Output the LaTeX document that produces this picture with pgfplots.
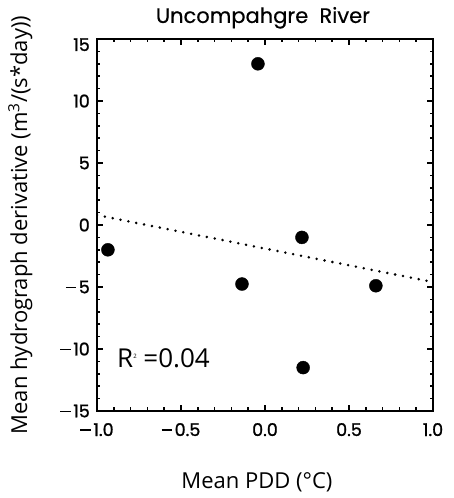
\documentclass[border=0pt]{standalone}
\usepackage{fontspec}
\setmainfont{Open Sans}
\newfontfamily\tickfont{Poppins}[FakeBold=1.2]
\newfontfamily\titlefont{Poppins}[FakeBold=0.4]
\usepackage{pgfplots}
\pgfplotsset{compat=1.18}
\newcommand{\mn}{\rule[5pt]{10.5pt}{1.8pt}\hspace{2.5pt}}
\begin{document}
\begin{tikzpicture}
\begin{axis}[
  scale only axis, width=336pt, height=372pt,
  xmin=-1, xmax=1, ymin=-15, ymax=15,
  xtick={-1,-0.5,0,0.5,1},
  xticklabels={\mn1.0,\mn0.5,0.0,0.5,1.0},
  ytick={-15,-10,-5,0,5,10,15},
  yticklabels={\mn15,\mn10,\mn5,0,5,10,\raisebox{-6pt}[12pt][0pt]{15}},
  minor x tick num=4, minor y tick num=4,
  tick align=inside,
  major tick length=6pt, minor tick length=3.5pt,
  tick style={black, line width=1.6pt},
  axis line style={line width=2.5pt},
  tick label style={font=\tickfont\fontsize{17.5}{17.5}\selectfont},
  xticklabel style={anchor=base, inner sep=0pt, yshift=-25pt},
  yticklabel style={anchor=east, inner sep=0pt, xshift=-7pt},
  title={Uncompahgre\ \ River},
  title style={at={(axis description cs:0.494,1.027)}, anchor=base, inner sep=0pt, font=\titlefont\fontsize{21}{21}\selectfont},
  xlabel={Mean PDD (°C)},
  xlabel style={at={(axis description cs:0.476,-0.207)}, anchor=base, inner sep=0pt, font=\fontsize{22}{22}\selectfont},
  ylabel={Mean hydrograph derivative (m\textsuperscript{3}/(s*day))},
  ylabel style={at={(axis description cs:-0.2083,0.5)}, anchor=base, inner sep=0pt, font=\fontsize{22}{22}\selectfont},
]
\addplot[only marks, mark=*, mark size=6.5pt, black] coordinates {
  (-0.935,-2) (-0.042,13) (0.22,-1) (-0.137,-4.76) (0.66,-4.9) (0.227,-11.5)};
\addplot[black, line width=2.8pt, dash pattern=on 0pt off 8pt, line cap=round] coordinates {(-1,0.8) (1,-4.6)};
\node[anchor=base west, inner sep=0pt, font=\fontsize{26}{26}\selectfont] at (axis cs:-0.881,-11.53) {R\raisebox{9pt}{\fontsize{6}{6}\selectfont 2} =0.04};
\end{axis}
\pgfresetboundingbox
\path[use as bounding box] ([xshift=-97pt,yshift=-87pt]current axis.south west) rectangle ([xshift=20pt,yshift=39pt]current axis.north east);
\end{tikzpicture}
\end{document}
